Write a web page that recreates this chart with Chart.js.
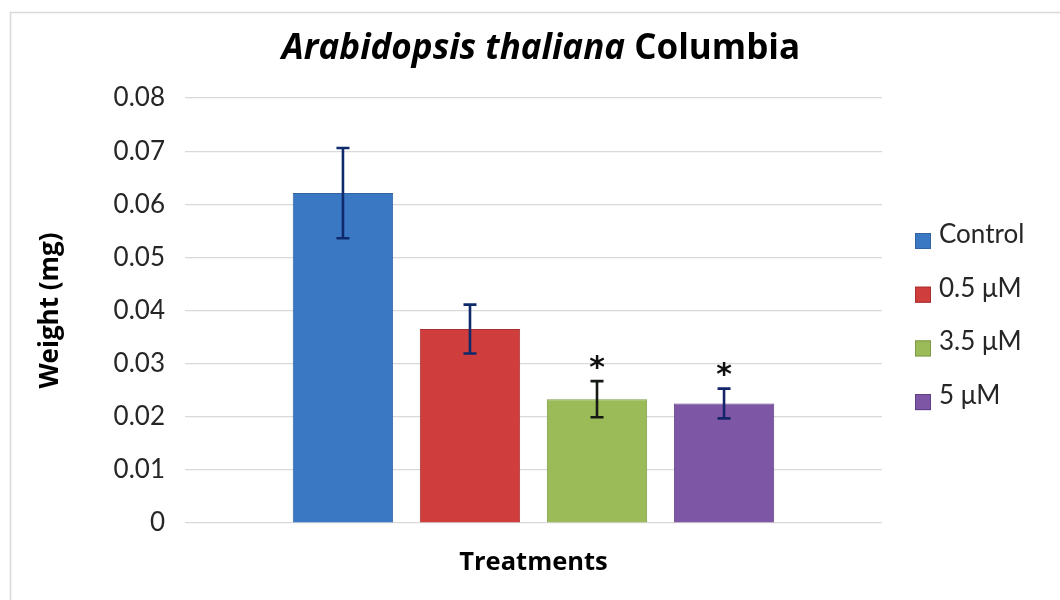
<!DOCTYPE html>
<html>
<head>
<meta charset="utf-8">
<title>Arabidopsis thaliana Columbia</title>
<script src="https://cdn.jsdelivr.net/npm/chart.js@4/dist/chart.umd.min.js"></script>
<style>
  html, body { margin: 0; padding: 0; background: #ffffff; }
  canvas { display: block; }
</style>
</head>
<body>
<canvas id="chart" width="1060" height="600"></canvas>
<script>
// Fresh weight of Arabidopsis thaliana Columbia seedlings per treatment
const treatments = ['Control', '0.5 μM', '3.5 μM', '5 μM'];
const meanWeight = [0.0621, 0.0365, 0.0233, 0.0225];
const errorWeight = [0.0085, 0.0046, 0.0034, 0.0028];
const significant = [false, false, true, true];
const yTicks = [0, 0.01, 0.02, 0.03, 0.04, 0.05, 0.06, 0.07, 0.08];

const fillColors = ['#3b78c4', '#d03d3d', '#9bbb59', '#7e56a6'];
const edgeColors = ['#2f629f', '#a83030', '#7d9a45', '#5f3f85'];
const whiskerColors = ['#0e2a6b', '#0e2a6b', '#151a14', '#15256a'];

const FONT = 'Lato, "Open Sans", "DejaVu Sans", sans-serif';
const BOLD_FONT = '"Open Sans", Lato, "DejaVu Sans", sans-serif';

// Light frame around the chart area
const framePlugin = {
  id: 'frame',
  beforeDraw(chart) {
    const ctx = chart.ctx;
    ctx.save();
    ctx.strokeStyle = '#d9d9d9';
    ctx.lineWidth = 1.5;
    ctx.beginPath();
    ctx.moveTo(10.5, 620);
    ctx.lineTo(10.5, 12.5);
    ctx.lineTo(1080, 12.5);
    ctx.stroke();
    ctx.restore();
  }
};

// Error bars and significance stars, placed through the y scale
const errorBarPlugin = {
  id: 'errorBars',
  afterDatasetsDraw(chart) {
    const ctx = chart.ctx;
    const y = chart.scales.y;
    ctx.save();
    chart.data.datasets.forEach((ds, i) => {
      const bar = chart.getDatasetMeta(i).data[0];
      if (!bar) return;
      const cx = bar.x;
      const top = y.getPixelForValue(meanWeight[i] + errorWeight[i]);
      const bottom = y.getPixelForValue(meanWeight[i] - errorWeight[i]);
      const cap = 6.5;
      ctx.strokeStyle = whiskerColors[i];
      ctx.lineWidth = 2.6;
      ctx.beginPath();
      ctx.moveTo(cx, top);
      ctx.lineTo(cx, bottom);
      ctx.moveTo(cx - cap, top);
      ctx.lineTo(cx + cap, top);
      ctx.moveTo(cx - cap, bottom);
      ctx.lineTo(cx + cap, bottom);
      ctx.stroke();
      if (significant[i]) {
        ctx.fillStyle = '#111111';
        ctx.font = 'bold 30px "DejaVu Sans", sans-serif';
        ctx.textAlign = 'center';
        ctx.textBaseline = 'alphabetic';
        const m = ctx.measureText('*');
        const glyphMid = (m.actualBoundingBoxAscent - m.actualBoundingBoxDescent) / 2;
        ctx.fillText('*', cx, top - 19 + glyphMid);
      }
    });
    ctx.restore();
  }
};

// Title with italic species name, axis titles and the legend on the right
const annotationPlugin = {
  id: 'annotations',
  afterDraw(chart) {
    const ctx = chart.ctx;
    const area = chart.chartArea;
    ctx.save();

    // Title
    const italicPart = 'Arabidopsis thaliana';
    const plainPart = ' Columbia';
    const italicFont = 'italic bold 35px ' + BOLD_FONT;
    const plainFont = 'bold 35px ' + BOLD_FONT;
    ctx.font = italicFont;
    const w1 = ctx.measureText(italicPart).width;
    ctx.font = plainFont;
    const w2 = ctx.measureText(plainPart).width;
    let x0 = 541 - (w1 + w2) / 2;
    ctx.fillStyle = '#000000';
    ctx.textBaseline = 'alphabetic';
    ctx.textAlign = 'left';
    ctx.font = italicFont;
    ctx.fillText(italicPart, x0, 59);
    ctx.font = plainFont;
    ctx.fillText(plainPart, x0 + w1, 59);

    // X axis title
    ctx.font = 'bold 25.5px ' + BOLD_FONT;
    ctx.textAlign = 'center';
    ctx.textBaseline = 'middle';
    ctx.fillText('Treatments', (area.left + area.right) / 2, 563);

    // Y axis title
    ctx.save();
    ctx.translate(51, (area.top + area.bottom) / 2);
    ctx.rotate(-Math.PI / 2);
    ctx.font = 'bold 26px ' + BOLD_FONT;
    ctx.fillText('Weight (mg)', 0, 0);
    ctx.restore();

    // Legend
    ctx.font = '26px ' + FONT;
    ctx.textAlign = 'left';
    ctx.textBaseline = 'alphabetic';
    treatments.forEach((name, i) => {
      const base = 243 + i * 53.7;
      ctx.fillStyle = fillColors[i];
      ctx.fillRect(915, base - 10, 16, 16);
      ctx.strokeStyle = edgeColors[i];
      ctx.lineWidth = 1;
      ctx.strokeRect(915.5, base - 9.5, 15, 15);
      ctx.fillStyle = '#262626';
      ctx.fillText(name, 939, base);
    });

    ctx.restore();
  }
};

new Chart(document.getElementById('chart'), {
  type: 'bar',
  data: {
    labels: [''],
    datasets: treatments.map((name, i) => ({
      label: name,
      data: [meanWeight[i]],
      backgroundColor: fillColors[i],
      borderColor: edgeColors[i],
      borderWidth: 1,
      categoryPercentage: 0.729,
      barPercentage: 0.79
    }))
  },
  options: {
    responsive: false,
    devicePixelRatio: 1,
    animation: false,
    layout: { padding: { left: 0, right: 178, top: 98, bottom: 69 } },
    plugins: {
      legend: { display: false },
      title: { display: false },
      tooltip: { enabled: false }
    },
    scales: {
      x: {
        grid: { display: false },
        border: { display: false },
        ticks: { display: false }
      },
      y: {
        min: 0,
        max: 0.08,
        afterFit(scale) { scale.width = 185; },
        afterBuildTicks(scale) { scale.ticks = yTicks.map(v => ({ value: v })); },
        grid: { color: '#d9d9d9', lineWidth: 1.2, drawTicks: false },
        border: { display: false },
        ticks: {
          padding: 20,
          color: '#262626',
          font: { family: FONT, size: 26 },
          callback: v => String(+v.toFixed(2))
        }
      }
    }
  },
  plugins: [framePlugin, errorBarPlugin, annotationPlugin]
});
</script>
</body>
</html>
